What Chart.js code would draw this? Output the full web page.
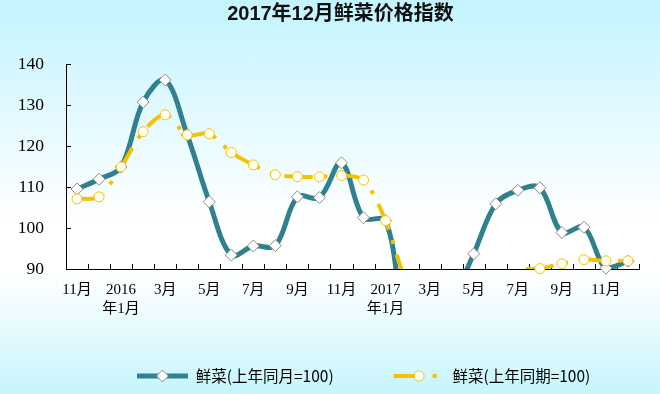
<!DOCTYPE html>
<html lang="zh-CN">
<head>
<meta charset="utf-8">
<title>2017年12月鲜菜价格指数</title>
<script src="https://cdn.jsdelivr.net/npm/chart.js@4.4.1/dist/chart.umd.min.js"></script>
<style>
    html, body { margin: 0; padding: 0; }
    body {
        width: 660px;
        height: 394px;
        overflow: hidden;
        background: linear-gradient(to bottom, #c3f4ff 0%, #ffffff 56%, #ffffff 70%, #c6f5fc 100%);
    }
    .chart-box { position: relative; width: 660px; height: 394px; }
</style>
</head>
<body>
<div class="chart-box"><canvas id="vegChart"></canvas></div>
<script>
// Data
const categories = [
    '2015年11月', '2015年12月',
    '2016年1月', '2016年2月', '2016年3月', '2016年4月', '2016年5月', '2016年6月',
    '2016年7月', '2016年8月', '2016年9月', '2016年10月', '2016年11月', '2016年12月',
    '2017年1月', '2017年2月', '2017年3月', '2017年4月', '2017年5月', '2017年6月',
    '2017年7月', '2017年8月', '2017年9月', '2017年10月', '2017年11月', '2017年12月'
];
const tickLabels = [
    '11月', '', ['2016', '年1月'], '', '3月', '', '5月', '', '7月', '', '9月', '', '11月', '',
    ['2017', '年1月'], '', '3月', '', '5月', '', '7月', '', '9月', '', '11月', ''
];
// 鲜菜(上年同月=100)
const sameMonthIndex = [
    109.5, 111.9,
    114.9, 130.7, 136.1, 122.7, 106.4, 93.4, 95.6, 95.7, 107.6, 107.4, 115.9, 102.5,
    101.8, 75.7, 74.7, 82.1, 93.7, 105.9, 109.2, 109.8, 98.9, 100.2, 90.2, 91.9
];
// 鲜菜(上年同期=100)
const samePeriodIndex = [
    107.1, 107.6,
    114.9, 123.5, 127.6, 122.7, 123.0, 118.4, 115.4, 113.0, 112.5, 112.5, 112.8, 111.7,
    101.8, 86.5, 82.5, 82.4, 84.5, 87.3, 89.8, 90.1, 91.3, 92.3, 92.0, 92.0
];
const yMin = 90;
const yMax = 140;
const yStep = 10;

// Styles
const TEAL = '#31808f';
const GOLD = '#f5c200';
const SERIF = "'Liberation Serif', 'Noto Sans CJK SC'";
const CJK = "'Noto Sans CJK SC', 'Noto Sans'";

const LEGEND_X = 137;   // left edge of first legend sample
const LEGEND_Y = 376;   // middle of legend row
const TITLE_DX = 21;

const series = [
    { label: '鲜菜(上年同月=100)', data: sameMonthIndex, color: TEAL, width: 5, dash: [], tension: 0.35,
      pointStyle: 'rectRot', radius: 6, pointFill: '#ffffff', pointLine: '#8a8a8a' },
    { label: '鲜菜(上年同期=100)', data: samePeriodIndex, color: GOLD, width: 4, dash: [28, 11, 4, 11], tension: 0.3,
      pointStyle: 'circle', radius: 5, pointFill: '#fffff2', pointLine: '#f0c020' }
];

// line dataset + marker dataset per series (markers are not clipped at the axis, lines are)
const datasets = [];
series.forEach((s, k) => {
    datasets.push({
        label: s.label,
        data: s.data,
        borderColor: s.color,
        backgroundColor: s.color,
        borderWidth: s.width,
        borderDash: s.dash,
        tension: s.tension,
        pointRadius: 0,
        clip: { left: 8, right: 8, top: 8, bottom: 0 },
        order: 4 - 2 * k
    });
    datasets.push({
        label: s.label,
        data: s.data,
        showLine: false,
        pointStyle: s.pointStyle,
        pointRadius: ctx => (ctx.raw < yMin ? 0 : s.radius),
        pointBackgroundColor: s.pointFill,
        pointBorderColor: s.pointLine,
        pointBorderWidth: 1,
        clip: false,
        order: 3 - 2 * k
    });
});

// Move the title and legend where the original has them
const nudgeBoxes = {
    id: 'nudgeBoxes',
    afterLayout(chart) {
        const lg = chart.legend;
        const pad = lg.options.labels.padding;
        const size = lg.options.labels.font.size;
        const start = (lg.left + pad + lg.right - lg.lineWidths[0]) / 2;
        const dx = LEGEND_X - start;
        const dy = LEGEND_Y - (lg.top + pad + size / 2);
        lg.left += dx; lg.right += dx;
        lg.top += dy;
        lg.bottom = chart.height;   // legend clips to its box

        const tb = chart.titleBlock;
        tb.left += TITLE_DX; tb.right += TITLE_DX;
    }
};

// Legend samples: line piece with the series dash and a marker in the middle
const legendSamples = {
    id: 'legendSamples',
    afterDraw(chart) {
        const lg = chart.legend;
        const ctx = chart.ctx;
        const boxW = lg.options.labels.boxWidth;
        const size = lg.options.labels.font.size;
        lg.legendItems.forEach((item, i) => {
            const hb = lg.legendHitBoxes[i];
            const s = item.sample;
            const y = hb.top + size / 2;
            ctx.save();
            ctx.strokeStyle = s.color;
            ctx.lineWidth = s.width;
            ctx.setLineDash(s.dash);
            ctx.beginPath();
            ctx.moveTo(hb.left, y);
            ctx.lineTo(hb.left + boxW, y);
            ctx.stroke();
            ctx.setLineDash([]);
            ctx.fillStyle = s.pointFill;
            ctx.strokeStyle = s.pointLine;
            ctx.lineWidth = 1;
            Chart.helpers.drawPoint(ctx, { pointStyle: s.pointStyle, radius: s.radius, rotation: 0, borderWidth: 1 },
                hb.left + boxW / 2, y);
            ctx.restore();
        });
    }
};

// Small tick marks on the inner side of both axes
const innerTicks = {
    id: 'innerTicks',
    beforeDatasetsDraw(chart) {
        const x = chart.scales.x;
        const y = chart.scales.y;
        const area = chart.chartArea;
        const ctx = chart.ctx;
        const step = x.getPixelForValue(1) - x.getPixelForValue(0);
        ctx.save();
        ctx.strokeStyle = '#000';
        ctx.lineWidth = 1;
        ctx.beginPath();
        for (let i = 0; i <= categories.length; i++) {
            const px = Math.round(x.getPixelForValue(i) - step / 2) + 0.5;
            ctx.moveTo(px, area.bottom);
            ctx.lineTo(px, area.bottom - 5);
        }
        for (let v = yMin + yStep; v <= yMax; v += yStep) {
            const py = Math.round(y.getPixelForValue(v)) + 0.5;
            ctx.moveTo(area.left, py);
            ctx.lineTo(area.left + 5, py);
        }
        ctx.stroke();
        ctx.restore();
    }
};

new Chart(document.getElementById('vegChart'), {
    type: 'line',
    data: { labels: categories, datasets },
    options: {
        responsive: true,
        maintainAspectRatio: false,
        animation: false,
        events: [],
        layout: { padding: { left: 0, right: 21, top: 0, bottom: 0 } },
        scales: {
            x: {
                offset: true,
                grid: { display: false, drawTicks: false },
                border: { display: true, color: '#000', width: 1 },
                ticks: {
                    autoSkip: false,
                    maxRotation: 0,
                    minRotation: 0,
                    padding: 11,
                    color: '#000',
                    font: { family: SERIF, size: 15, lineHeight: 1.3 },
                    callback: (v, i) => tickLabels[i]
                },
                afterFit: scale => { scale.height = 95; }
            },
            y: {
                min: yMin,
                max: yMax,
                grid: { display: false, drawTicks: false },
                border: { display: true, color: '#000', width: 1 },
                ticks: {
                    stepSize: yStep,
                    padding: 22,
                    color: '#000',
                    font: { family: SERIF, size: 17.5 }
                },
                afterFit: scale => { scale.width = 66; }
            }
        },
        plugins: {
            title: {
                display: true,
                text: '2017年12月鲜菜价格指数',
                color: '#111',
                font: { family: "'Liberation Sans', 'Noto Sans CJK SC'", size: 20, weight: 'bold' },
                padding: { top: 2, bottom: 38 }
            },
            legend: {
                position: 'bottom',
                maxHeight: 30,
                labels: {
                    boxWidth: 51,
                    boxHeight: 5,
                    padding: 60,
                    color: '#000',
                    font: { family: CJK, size: 15.5 },
                    generateLabels: () => series.map((s, k) => ({
                        text: s.label,
                        fillStyle: 'rgba(0,0,0,0)',
                        strokeStyle: 'rgba(0,0,0,0)',
                        lineWidth: 0,
                        hidden: false,
                        datasetIndex: 2 * k,
                        fontColor: '#000',
                        sample: s
                    }))
                }
            },
            tooltip: { enabled: false }
        }
    },
    plugins: [nudgeBoxes, legendSamples, innerTicks]
});
</script>
</body>
</html>
